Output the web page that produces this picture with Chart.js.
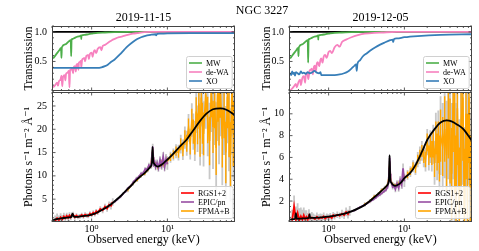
<!DOCTYPE html>
<html>
<head>
<meta charset="utf-8">
<script src="https://cdn.jsdelivr.net/npm/chart.js@4.4.1/dist/chart.umd.min.js"></script>
<style>
  html, body { margin: 0; padding: 0; background: #fff; }
  #wrap { position: relative; width: 479px; height: 251px; overflow: hidden; }
  #wrap canvas { position: absolute; left: 0; top: 0; }
  #suptitle {
    position: absolute; left: 212px; top: 3px; width: 100px; text-align: center;
    font: 12px 'Liberation Serif', 'DejaVu Serif', serif; line-height: 14px; color: #000;
  }
</style>
</head>
<body>
<div id="wrap">
  <canvas id="transNov" width="479" height="251"></canvas>
  <canvas id="fluxNov" width="479" height="251"></canvas>
  <canvas id="transDec" width="479" height="251"></canvas>
  <canvas id="fluxDec" width="479" height="251"></canvas>
  <div id="suptitle">NGC 3227</div>
</div>
<script>
// Axis ranges and tick labels
const E_RANGE = [0.31, 78];
const xMajorTicks = [1, 10];
const transRange = [0, 1.1];
const transTicks = [0.5, 1.0];
const fluxRangeNov = [0.1, 28];
const fluxTicksNov = [5, 10, 15, 20, 25];
const fluxRangeDec = [0.08, 12];
const fluxTicksDec = [2, 4, 6, 8, 10];

// Transmission, Milky Way (both epochs share energies)
const mwE = [0.31, 0.34, 0.37, 0.395, 0.40, 0.405, 0.45, 0.50, 0.53, 0.537, 0.544, 0.56, 0.60, 0.65, 0.70, 0.725, 0.73, 0.735, 0.80, 0.90, 1.0, 1.2, 1.5, 2.0, 3.0, 78];
const mwNov = [0.55, 0.62, 0.68, 0.73, 0.56, 0.74, 0.79, 0.84, 0.86, 0.59, 0.87, 0.88, 0.90, 0.92, 0.93, 0.94, 0.88, 0.94, 0.95, 0.96, 0.97, 0.985, 0.99, 0.997, 1.0, 1.0];
const mwDec = [0.55, 0.62, 0.68, 0.73, 0.59, 0.74, 0.79, 0.84, 0.86, 0.48, 0.87, 0.88, 0.90, 0.92, 0.93, 0.94, 0.87, 0.94, 0.95, 0.96, 0.97, 0.985, 0.99, 0.997, 1.0, 1.0];

// Transmission, de-WA
const dewaNovE = [0.31, 0.33, 0.35, 0.36, 0.37, 0.39, 0.40, 0.41, 0.42, 0.44, 0.45, 0.46, 0.48, 0.50, 0.51, 0.52, 0.53, 0.55, 0.57, 0.58, 0.60, 0.62, 0.63, 0.65, 0.67, 0.68, 0.70, 0.72, 0.73, 0.75, 0.78, 0.80, 0.82, 0.85, 0.87, 0.90, 0.92, 0.95, 1.0, 1.03, 1.07, 1.1, 1.15, 1.2, 1.3, 1.35, 1.4, 1.5, 1.7, 1.85, 2.0, 2.3, 2.5, 3.0, 3.5, 4.0, 5.0, 6.0, 78];
const dewaNov = [0.06, 0.10, 0.14, 0.09, 0.16, 0.20, 0.26, 0.08, 0.24, 0.27, 0.18, 0.29, 0.31, 0.34, 0.06, 0.35, 0.36, 0.38, 0.30, 0.40, 0.42, 0.33, 0.44, 0.46, 0.36, 0.48, 0.49, 0.51, 0.40, 0.53, 0.55, 0.56, 0.50, 0.59, 0.60, 0.61, 0.54, 0.63, 0.65, 0.58, 0.67, 0.69, 0.64, 0.71, 0.74, 0.69, 0.76, 0.78, 0.83, 0.86, 0.88, 0.91, 0.92, 0.95, 0.97, 0.98, 0.995, 1.0, 1.0];
const dewaDecE = [0.31, 0.33, 0.35, 0.37, 0.38, 0.40, 0.42, 0.43, 0.45, 0.47, 0.49, 0.50, 0.52, 0.54, 0.56, 0.58, 0.60, 0.62, 0.64, 0.66, 0.68, 0.70, 0.72, 0.75, 0.78, 0.80, 0.83, 0.86, 0.90, 0.94, 1.0, 1.05, 1.1, 1.2, 1.3, 1.4, 1.5, 1.7, 2.0, 2.5, 3.0, 4.0, 5.0, 8.0, 78];
const dewaDec = [0.01, 0.04, 0.08, 0.12, 0.06, 0.15, 0.19, 0.10, 0.22, 0.25, 0.14, 0.28, 0.31, 0.20, 0.34, 0.36, 0.38, 0.28, 0.41, 0.43, 0.33, 0.47, 0.49, 0.42, 0.53, 0.55, 0.48, 0.58, 0.61, 0.56, 0.66, 0.68, 0.64, 0.74, 0.78, 0.75, 0.83, 0.87, 0.91, 0.95, 0.97, 0.985, 0.99, 1.0, 1.0];

// Transmission, XO
const xoNovE = [0.31, 1.0, 1.2, 1.35, 1.5, 1.65, 1.8, 2.0, 2.2, 2.4, 2.7, 3.0, 3.5, 4.0, 4.5, 5.0, 6.0, 7.0, 7.1, 7.3, 8.0, 10, 20, 78];
const xoNov = [0.39, 0.39, 0.39, 0.40, 0.42, 0.45, 0.49, 0.53, 0.58, 0.63, 0.70, 0.76, 0.83, 0.88, 0.91, 0.93, 0.95, 0.96, 0.94, 0.965, 0.97, 0.975, 0.98, 0.98];
const xoDecE = [0.31, 0.32, 0.33, 0.34, 0.35, 0.36, 0.37, 0.39, 0.41, 0.43, 0.45, 0.47, 0.5, 0.53, 0.56, 0.6, 0.65, 0.7, 0.75, 0.78, 0.8, 0.9, 1.0, 1.2, 1.4, 1.6, 1.8, 2.0, 2.2, 2.3, 2.35, 2.4, 2.6, 2.8, 3.2, 3.8, 4.4, 5.5, 6.5, 7.0, 7.1, 7.3, 8.0, 10, 15, 30, 78];
const xoDec = [0.30, 0.27, 0.33, 0.29, 0.31, 0.26, 0.32, 0.30, 0.28, 0.33, 0.30, 0.31, 0.29, 0.32, 0.30, 0.31, 0.34, 0.31, 0.30, 0.32, 0.27, 0.27, 0.27, 0.27, 0.28, 0.30, 0.33, 0.38, 0.43, 0.45, 0.34, 0.46, 0.52, 0.58, 0.64, 0.71, 0.76, 0.82, 0.86, 0.87, 0.83, 0.88, 0.89, 0.91, 0.93, 0.95, 0.96];

// Reference line at full transmission
const unityE = [0.31, 78];
const unityT = [1, 1];

// Best-fit model (photons s^-1 m^-2 A^-1)
const modelNovE = [0.31, 0.34, 0.37, 0.40, 0.45, 0.50, 0.54, 0.56, 0.58, 0.60, 0.65, 0.70, 0.80, 0.90, 1.0, 1.1, 1.2, 1.4, 1.6, 1.8, 2.0, 2.5, 3.0, 3.5, 4.0, 4.5, 5.0, 5.5, 6.0, 6.25, 6.37, 6.5, 6.7, 7.0, 7.5, 8.0, 9.0, 10, 12, 15, 18, 22, 27, 33, 40, 50, 60, 78];
const modelNov = [0.5, 0.7, 0.8, 0.9, 1.0, 1.1, 1.2, 1.9, 1.3, 1.2, 1.2, 1.3, 1.4, 1.5, 1.7, 1.9, 2.2, 2.8, 3.3, 3.9, 4.5, 5.9, 7.2, 8.3, 9.3, 10.0, 10.6, 11.3, 12.0, 12.8, 16.2, 13.2, 12.6, 12.2, 12.0, 12.2, 12.8, 13.5, 14.8, 16.5, 17.8, 19.8, 21.8, 23.4, 24.3, 24.5, 24.2, 23.0];
const modelDecE = [0.31, 0.35, 0.36, 0.37, 0.38, 0.45, 0.50, 0.55, 0.56, 0.57, 0.60, 0.70, 0.80, 1.0, 1.2, 1.4, 1.7, 2.0, 2.5, 3.0, 3.5, 4.0, 4.5, 5.0, 5.5, 6.0, 6.25, 6.37, 6.5, 6.7, 7.0, 7.5, 8.0, 9.0, 10, 12, 14, 17, 20, 25, 30, 36, 42, 50, 60, 78];
const modelDec = [0.3, 0.35, 0.38, 0.9, 0.38, 0.4, 0.42, 0.45, 0.8, 0.45, 0.45, 0.48, 0.5, 0.58, 0.66, 0.75, 0.9, 1.05, 1.35, 1.65, 2.0, 2.35, 2.65, 2.95, 3.2, 3.5, 4.0, 6.2, 4.0, 3.7, 3.5, 3.4, 3.45, 3.7, 4.1, 4.6, 5.3, 6.5, 7.6, 8.6, 9.2, 9.4, 9.3, 9.0, 8.6, 7.5];

// RGS1+2 data
const rgsE = [0.33, 0.35, 0.37, 0.39, 0.41, 0.43, 0.45, 0.47, 0.49, 0.51, 0.53, 0.55, 0.57, 0.60, 0.63, 0.66, 0.70, 0.74, 0.78, 0.82, 0.86, 0.90, 0.95, 1.0, 1.05, 1.1, 1.15, 1.2, 1.3, 1.4, 1.5, 1.6, 1.7, 1.8, 1.9];
const rgsNov = [0.3, 0.9, 0.5, 1.1, 0.7, 1.3, 0.9, 1.4, 1.0, 1.5, 1.1, 1.6, 1.7, 1.1, 1.5, 1.2, 1.3, 1.6, 1.3, 1.7, 1.5, 1.4, 1.9, 1.6, 2.1, 1.8, 2.4, 2.1, 2.9, 2.6, 3.4, 3.0, 3.8, 3.6, 4.4];
const rgsNovErr = [1.2, 1.0, 1.0, 0.9, 0.9, 0.8, 0.8, 0.7, 0.7, 0.7, 0.6, 0.6, 0.6, 0.5, 0.5, 0.5, 0.5, 0.5, 0.5, 0.5, 0.5, 0.5, 0.5, 0.5, 0.5, 0.5, 0.5, 0.5, 0.6, 0.6, 0.6, 0.7, 0.7, 0.8, 0.8];
const rgsDec = [0.2, 1.5, 0.3, 0.9, 0.25, 0.6, 0.3, 0.7, 0.35, 0.55, 0.3, 0.65, 0.4, 0.5, 0.45, 0.35, 0.55, 0.4, 0.5, 0.45, 0.6, 0.4, 0.55, 0.5, 0.6, 0.45, 0.7, 0.6, 0.75, 0.65, 0.85, 0.7, 1.0, 0.8, 1.1];
const rgsDecErr = [1.0, 1.0, 1.2, 0.9, 1.1, 0.8, 0.9, 0.7, 0.8, 0.6, 0.6, 0.6, 0.5, 0.5, 0.4, 0.4, 0.4, 0.4, 0.35, 0.35, 0.35, 0.35, 0.3, 0.3, 0.3, 0.3, 0.3, 0.3, 0.3, 0.3, 0.35, 0.35, 0.4, 0.4, 0.45];

// EPIC/pn data
const pnE = [2.0, 2.2, 2.4, 2.6, 2.8, 3.0, 3.3, 3.6, 3.9, 4.2, 4.5, 4.8, 5.1, 5.4, 5.7, 6.0, 6.2, 6.3, 6.4, 6.5, 6.6, 6.8, 7.0, 7.3, 7.6, 8.0, 8.4, 8.8, 9.2, 9.6, 10.0];
const pnNov = [4.4, 5.0, 5.5, 6.2, 6.6, 7.3, 7.9, 8.8, 9.4, 9.8, 10.5, 10.6, 11.5, 11.3, 12.3, 12.0, 13.4, 15.0, 16.3, 14.0, 12.5, 12.9, 11.9, 12.8, 11.7, 13.4, 12.2, 14.1, 12.0, 13.6, 12.5];
const pnNovErr = [0.3, 0.3, 0.3, 0.3, 0.3, 0.3, 0.3, 0.3, 0.4, 0.4, 0.4, 0.4, 0.4, 0.5, 0.5, 0.5, 0.5, 0.6, 0.6, 0.6, 0.6, 0.6, 0.7, 0.7, 0.8, 0.8, 0.9, 1.0, 1.0, 1.1, 1.2];
const pnDec = [1.05, 1.15, 1.3, 1.45, 1.55, 1.65, 1.85, 2.0, 2.15, 2.3, 2.5, 2.6, 2.75, 2.9, 3.0, 3.3, 3.8, 5.0, 6.0, 4.5, 3.8, 3.6, 3.3, 3.4, 3.1, 3.6, 3.2, 3.9, 3.5, 5.0, 3.8];
const pnDecErr = [0.1, 0.1, 0.1, 0.1, 0.1, 0.1, 0.1, 0.12, 0.12, 0.12, 0.15, 0.15, 0.15, 0.15, 0.15, 0.2, 0.2, 0.2, 0.2, 0.2, 0.2, 0.2, 0.25, 0.25, 0.3, 0.3, 0.35, 0.4, 0.4, 0.45, 0.5];

// FPMA+B data
const fpmE = [3.0, 3.5, 4.0, 4.5, 5.0, 5.5, 6.0, 6.2, 6.4, 6.6, 7.0, 7.5, 8.0, 8.5, 9.0, 10, 11, 12, 13, 14, 15, 16, 17, 18, 19, 20, 21, 22, 23, 24, 25, 26, 27, 28, 29, 30, 32, 34, 36, 38, 40, 42, 44, 46, 48, 50, 53, 56, 59, 62, 65, 68, 71, 74, 77];
const fpmNov = [7.0, 8.4, 9.2, 10.1, 10.5, 11.4, 12.1, 13.5, 15.5, 13.0, 12.4, 11.9, 12.4, 12.8, 12.6, 13.2, 14.0, 14.6, 15.3, 15.0, 16.8, 15.6, 18.2, 17.0, 20.3, 16.8, 22.0, 19.5, 17.5, 23.8, 20.1, 25.5, 18.0, 26.8, 21.3, 19.0, 27.5, 22.0, 17.5, 28.0, 20.5, 26.0, 16.0, 27.5, 22.5, 28.5, 18.0, 24.5, 15.0, 27.0, 21.0, 14.5, 28.5, 19.0, 24.0];
const fpmNovErr = [0.3, 0.3, 0.3, 0.3, 0.3, 0.4, 0.4, 0.4, 0.5, 0.5, 0.5, 0.5, 0.5, 0.6, 0.6, 0.7, 0.8, 0.9, 1.0, 1.1, 1.3, 1.4, 1.6, 1.8, 2.0, 2.2, 2.4, 2.6, 2.9, 3.1, 3.3, 3.6, 3.9, 4.2, 4.4, 4.6, 4.8, 5.0, 5.2, 5.4, 5.6, 5.8, 5.8, 5.9, 6.0, 6.0, 6.2, 6.4, 6.6, 6.8, 7, 7, 7, 7, 7];
const fpmNovBg = [0.5, 0.5, 0.5, 0.5, 0.5, 0.6, 0.6, 0.6, 0.7, 0.7, 0.7, 0.7, 0.8, 0.8, 0.9, 1.0, 1.2, 1.3, 1.5, 1.7, 2.0, 2.2, 2.4, 2.7, 3.0, 3.3, 3.6, 3.9, 4.3, 4.6, 5.0, 5.4, 5.8, 6.2, 6.6, 7.0, 7.4, 7.8, 8.2, 8.6, 9.0, 9.4, 9.8, 10, 10, 10, 10, 10, 10, 10, 10, 10, 10, 10, 10];
const fpmDec = [1.7, 2.0, 2.4, 2.6, 3.0, 3.2, 3.5, 4.0, 5.4, 3.9, 3.5, 3.4, 3.5, 3.6, 3.7, 4.1, 4.4, 4.7, 5.2, 5.0, 5.8, 6.2, 6.6, 6.1, 5.8, 7.4, 6.2, 7.0, 6.4, 7.2, 5.5, 7.8, 6.5, 7.4, 5.9, 8.0, 7.0, 8.6, 6.2, 9.5, 7.5, 4.5, 11.0, 7.5, 3.0, 10.5, 1.5, 9.0, 11.5, 0.8, 10.0, 4.0, 11.5, 2.0, 7.0];
const fpmDecErr = [0.1, 0.1, 0.1, 0.1, 0.1, 0.1, 0.1, 0.1, 0.15, 0.15, 0.15, 0.15, 0.2, 0.2, 0.2, 0.25, 0.3, 0.3, 0.35, 0.4, 0.45, 0.5, 0.55, 0.6, 0.7, 0.8, 0.9, 1.0, 1.1, 1.2, 1.3, 1.5, 1.7, 1.9, 2.1, 2.4, 2.7, 3.0, 3.3, 3.6, 3.9, 4.2, 4.5, 4.8, 5.0, 5.2, 5.4, 5.6, 5.8, 6.0, 6.0, 6.0, 6.0, 6.0, 6.0];
const fpmDecBg = [0.2, 0.2, 0.2, 0.2, 0.2, 0.2, 0.2, 0.2, 0.25, 0.25, 0.25, 0.25, 0.3, 0.3, 0.3, 0.4, 0.45, 0.5, 0.55, 0.6, 0.7, 0.8, 0.9, 1.0, 1.1, 1.2, 1.4, 1.5, 1.7, 1.8, 2.0, 2.3, 2.6, 2.9, 3.2, 3.6, 4.0, 4.5, 5.0, 5.5, 6.0, 6.5, 7.0, 7.5, 8.0, 8.0, 8.0, 8.0, 8.0, 8.0, 8.0, 8.0, 8.0, 8.0, 8.0];

const colors = {
    mw: '#4daf4a', dewa: '#f781bf', xo: '#377eb8',
    rgs: '#ff0000', pn: '#984ea3', fpm: '#ffa500',
    bg: '#c8c8c8', model: '#000000'
};
const serif = "'Liberation Serif', 'DejaVu Serif', serif";
const superDigits = '⁰¹²³⁴⁵⁶⁷⁸⁹';

Chart.defaults.font.family = serif;
Chart.defaults.color = '#000';

// Inward ticks on all four sides plus the axes box, matplotlib style
const frame = {
    id: 'frame',
    defaults: { yMinor: 1 },
    afterDraw(chart, args, opts) {
        const { ctx, chartArea: a, scales: { x, y } } = chart;
        const major = 3.5, minor = 2;
        ctx.save();
        ctx.strokeStyle = '#333';
        ctx.lineWidth = 0.8;
        ctx.beginPath();
        const vTick = (px, len) => {
            ctx.moveTo(px, a.bottom); ctx.lineTo(px, a.bottom - len);
            ctx.moveTo(px, a.top); ctx.lineTo(px, a.top + len);
        };
        const hTick = (py, len) => {
            ctx.moveTo(a.left, py); ctx.lineTo(a.left + len, py);
            ctx.moveTo(a.right, py); ctx.lineTo(a.right - len, py);
        };
        for (let e = Math.floor(Math.log10(x.min)); e <= Math.floor(Math.log10(x.max)); e++) {
            for (let m = 1; m < 10; m++) {
                const v = m * Math.pow(10, e);
                if (v < x.min || v > x.max) continue;
                vTick(x.getPixelForValue(v), m === 1 ? major : minor);
            }
        }
        const majors = y.ticks.map(t => t.value);
        for (let v = Math.ceil(y.min / opts.yMinor) * opts.yMinor; v <= y.max; v += opts.yMinor) {
            if (majors.some(m => Math.abs(m - v) < 1e-6)) continue;
            hTick(y.getPixelForValue(v), minor);
        }
        majors.forEach(v => hTick(y.getPixelForValue(v), major));
        ctx.stroke();
        ctx.strokeStyle = '#444';
        ctx.lineWidth = 1;
        ctx.strokeRect(a.left + 0.5, a.top + 0.5, a.right - a.left - 1, a.bottom - a.top - 1);
        ctx.restore();
    }
};

// Framed legend in the lower right corner of the axes
const boxLegend = {
    id: 'boxLegend',
    defaults: { fontSize: 8, rowH: 9, padX: 3, padY: 2.5, lineLen: 13, gap: 4, marginX: 3, marginY: 3 },
    afterDraw(chart, args, opts) {
        const items = chart.data.datasets.filter(d => d.label);
        if (!items.length) return;
        const { ctx, chartArea: a } = chart;
        ctx.save();
        ctx.font = opts.fontSize + 'px ' + serif;
        const textW = Math.max(...items.map(d => ctx.measureText(d.label).width));
        const w = 2 * opts.padX + opts.lineLen + opts.gap + textW;
        const h = 2 * opts.padY + items.length * opts.rowH;
        const x0 = Math.round(a.right - opts.marginX - w);
        const y0 = Math.round(a.bottom - opts.marginY - h);
        ctx.beginPath();
        if (ctx.roundRect) ctx.roundRect(x0 + 0.5, y0 + 0.5, w, h, 2);
        else ctx.rect(x0 + 0.5, y0 + 0.5, w, h);
        ctx.fillStyle = 'rgba(255,255,255,0.85)';
        ctx.fill();
        ctx.strokeStyle = '#d0d0d0';
        ctx.lineWidth = 1;
        ctx.stroke();
        ctx.textBaseline = 'middle';
        ctx.textAlign = 'left';
        items.forEach((d, i) => {
            const yy = y0 + opts.padY + opts.rowH * (i + 0.5);
            ctx.strokeStyle = d.borderColor;
            ctx.lineWidth = 1.6;
            ctx.beginPath();
            ctx.moveTo(x0 + opts.padX, yy);
            ctx.lineTo(x0 + opts.padX + opts.lineLen, yy);
            ctx.stroke();
            ctx.fillStyle = '#000';
            ctx.fillText(d.label, x0 + opts.padX + opts.lineLen + opts.gap, yy + 0.5);
        });
        ctx.restore();
    }
};

Chart.register(frame, boxLegend);

const pts = (E, v) => E.map((e, i) => ({ x: e, y: v[i] }));
const bars = (E, v, err) => E.flatMap((e, i) => [
    { x: e, y: v[i] - err[i] }, { x: e, y: v[i] + err[i] }, { x: e, y: null }
]);

function curve(label, E, v, color, width, order) {
    return { label, data: pts(E, v), borderColor: color, borderWidth: width, order,
             cubicInterpolationMode: 'monotone', fill: false };
}
function series(label, E, v, color, width, order) {
    return { label, data: pts(E, v), borderColor: color, borderWidth: width, order, fill: false };
}
function errors(E, v, err, color, width, order) {
    return { label: null, data: bars(E, v, err), borderColor: color, borderWidth: width,
             order, spanGaps: false, fill: false };
}

function xAxis(showLabels) {
    return {
        type: 'logarithmic',
        min: E_RANGE[0], max: E_RANGE[1],
        grid: { display: false, drawTicks: false },
        border: { display: false },
        afterBuildTicks: s => { s.ticks = xMajorTicks.map(v => ({ value: v })); },
        ticks: {
            display: showLabels, autoSkip: false, maxRotation: 0, padding: 1,
            font: { size: 10 },
            callback: v => '10' + superDigits[Math.round(Math.log10(v))]
        },
        title: {
            display: showLabels, text: 'Observed energy (keV)',
            font: { size: 12 }, padding: { top: 0, bottom: 4 }
        },
        afterFit: s => { s.height = showLabels ? 29 : 0; }
    };
}

function yAxis(range, majorTicks, title, width, decimals) {
    return {
        min: range[0], max: range[1],
        grid: { display: false, drawTicks: false },
        border: { display: false },
        afterBuildTicks: s => { s.ticks = majorTicks.map(v => ({ value: v })); },
        ticks: { autoSkip: false, padding: 5, font: { size: 10 }, callback: v => v.toFixed(decimals) },
        title: { display: true, text: title, font: { size: 12 }, padding: 0 },
        afterFit: s => { s.width = width; }
    };
}

function panel(id, cfg) {
    return new Chart(document.getElementById(id), {
        type: 'line',
        data: { datasets: cfg.datasets },
        options: {
            responsive: false,
            animation: false,
            events: [],
            layout: { padding: cfg.padding },
            elements: { point: { radius: 0 } },
            scales: {
                x: xAxis(cfg.xLabels),
                y: yAxis(cfg.yRange, cfg.yTicks, cfg.yTitle, cfg.yWidth, cfg.decimals)
            },
            plugins: {
                legend: { display: false },
                tooltip: { enabled: false },
                title: cfg.title
                    ? { display: true, text: cfg.title, fullSize: false, color: '#000',
                        font: { size: 12, weight: 'normal' }, padding: { top: 11, bottom: 0.6 } }
                    : { display: false },
                frame: { yMinor: cfg.yMinor },
                boxLegend: cfg.legend || {}
            }
        }
    });
}

const fluxTitle = 'Photons s⁻¹ m⁻² Å⁻¹';

function transSets(mwT, dewaE, dewaT, xoE, xoT) {
    return [
        curve(null, unityE, unityT, colors.model, 1.8, 4),
        curve('MW', mwE, mwT, colors.mw, 1.8, 2),
        curve('de-WA', dewaE, dewaT, colors.dewa, 1.8, 1),
        curve('XO', xoE, xoT, colors.xo, 1.8, 0)
    ];
}

function fluxSets(modE, modV, rgsV, rgsErr, pnV, pnErr, fpmV, fpmErr, fpmBg) {
    return [
        series('RGS1+2', rgsE, rgsV, colors.rgs, 1.8, 1),
        series('EPIC/pn', pnE, pnV, colors.pn, 1.8, 1),
        series('FPMA+B', fpmE, fpmV, colors.fpm, 1.6, 2),
        curve(null, modE, modV, colors.model, 1.8, 0),
        errors(fpmE, fpmV, fpmErr, colors.fpm, 1.4, 2),
        errors(rgsE, rgsV, rgsErr, colors.bg, 1.8, 5),
        errors(pnE, pnV, pnErr, colors.bg, 1.8, 5),
        errors(fpmE, fpmV, fpmBg, colors.bg, 1.8, 5)
    ];
}

panel('transNov', {
    title: '2019-11-15', xLabels: false,
    padding: { left: 22, right: 244, top: 0, bottom: 160 },
    yRange: transRange, yTicks: transTicks, yTitle: 'Transmission', yWidth: 30, decimals: 1, yMinor: 0.1,
    datasets: transSets(mwNov, dewaNovE, dewaNov, xoNovE, xoNov)
});

panel('transDec', {
    title: '2019-12-05', xLabels: false,
    padding: { left: 260, right: 7, top: 0, bottom: 160 },
    yRange: transRange, yTicks: transTicks, yTitle: 'Transmission', yWidth: 29, decimals: 1, yMinor: 0.1,
    datasets: transSets(mwDec, dewaDecE, dewaDec, xoDecE, xoDec)
});

panel('fluxNov', {
    xLabels: true,
    padding: { left: 22, right: 244, top: 92, bottom: 0 },
    yRange: fluxRangeNov, yTicks: fluxTicksNov, yTitle: fluxTitle, yWidth: 30, decimals: 0, yMinor: 1,
    legend: { marginX: 2, marginY: 4 },
    datasets: fluxSets(modelNovE, modelNov, rgsNov, rgsNovErr, pnNov, pnNovErr, fpmNov, fpmNovErr, fpmNovBg)
});

panel('fluxDec', {
    xLabels: true,
    padding: { left: 260, right: 7, top: 92, bottom: 0 },
    yRange: fluxRangeDec, yTicks: fluxTicksDec, yTitle: fluxTitle, yWidth: 29, decimals: 0, yMinor: 0.5,
    legend: { marginX: 2, marginY: 4 },
    datasets: fluxSets(modelDecE, modelDec, rgsDec, rgsDecErr, pnDec, pnDecErr, fpmDec, fpmDecErr, fpmDecBg)
});
</script>
</body>
</html>
